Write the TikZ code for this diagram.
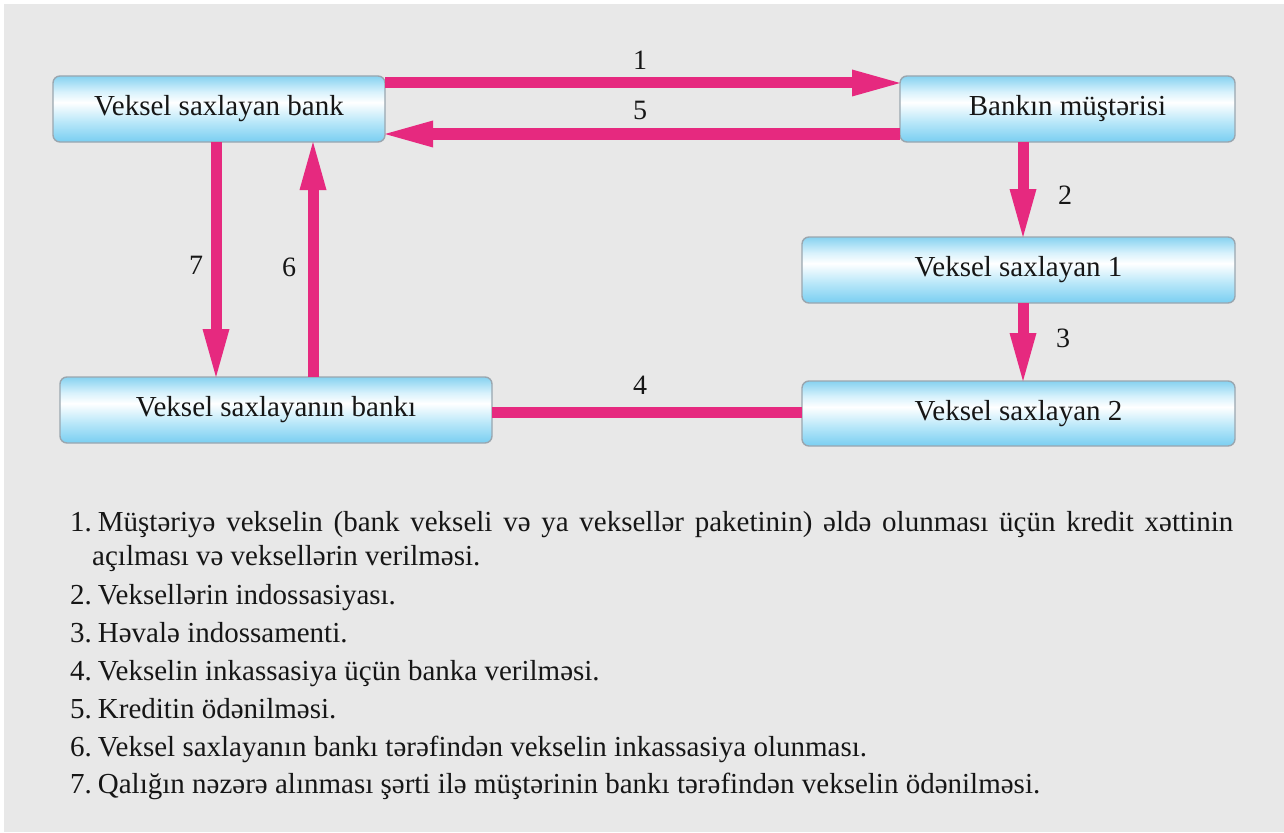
\documentclass[tikz,border=0pt]{standalone}
\usepackage{fontspec}
\setmainfont{Liberation Serif}
\usetikzlibrary{arrows.meta,calc}
\definecolor{bgray}{HTML}{E8E8E8}
\definecolor{pinkA}{HTML}{E6297F}
\definecolor{bbot}{HTML}{79CEF1}
\definecolor{bmid}{HTML}{B8E7F9}
\definecolor{blight}{HTML}{D8F2FC}
\definecolor{btop}{HTML}{86D2F0}
\definecolor{bord}{HTML}{9AA6AF}
\definecolor{txt}{HTML}{161616}
\pgfdeclareverticalshading{boxshade}{100bp}{color(0bp)=(bbot); color(25bp)=(bbot); color(40bp)=(bmid); color(55bp)=(white); color(63bp)=(blight); color(75bp)=(btop); color(100bp)=(btop)}
\tikzset{
  box/.style={draw=bord, line width=1.4pt, rounded corners=7pt, shading=boxshade,
    inner sep=0pt, outer sep=0pt, text=txt, font=\fontsize{29}{34}\selectfont},
  conn/.style={draw=pinkA, line width=11pt, line cap=butt},
  arr/.style={conn, -{Triangle[length=48pt,width=27pt,line width=0pt]}},
  num/.style={text=txt, font=\fontsize{28}{32}\selectfont, inner sep=0pt},
  leg/.style={text=txt, font=\fontsize{29}{34}\selectfont, inner sep=0pt, anchor=base west}
}
\begin{document}
\begin{tikzpicture}[x=1pt,y=-1pt]
\useasboundingbox (0,0) rectangle (1284,832);
\fill[white] (0,0) rectangle (1284,832);
\fill[bgray] (4,4) rectangle (1284,832);

\node[box, minimum width=332pt, minimum height=66pt] (A) at (219,109) {Veksel saxlayan bank};
\node[box, minimum width=335pt, minimum height=66pt] (B) at (1067.5,109) {Bankın müştərisi};
\node[box, minimum width=433pt, minimum height=66pt] (C) at (1018.5,270) {Veksel saxlayan 1};
\node[box, minimum width=433pt, minimum height=65pt] (D) at (1018.5,413.5) {Veksel saxlayan 2};
\node[box, minimum width=432pt, minimum height=66pt] (E) at (276,410) {Veksel saxlayanın bankı};

% connectors
\draw[arr] ([yshift=26pt]A.east) -- ([yshift=26pt]B.west);
\draw[arr] ([yshift=-25pt]B.west) -- ([yshift=-25pt]A.east);
\draw[arr] ([xshift=-44.5pt]B.south) -- ([xshift=4.5pt]C.north);
\draw[arr] ([xshift=4.5pt]C.south) -- ([xshift=4.5pt]D.north);
\draw[arr] ([xshift=-3pt]A.south) -- ([xshift=-60pt]E.north);
\draw[arr] ([xshift=37pt]E.north) -- ([xshift=94pt]A.south);
\draw[conn] ([yshift=-2pt]E.east) -- ([yshift=1.5pt]D.west);

% numbers
\node[num] (n1) at (640,60) {1};
\node[num] (n5) at (640,110) {5};
\node[num] (n2) at (1065,195) {2};
\node[num] (n3) at (1063,338) {3};
\node[num] (n7) at (196,265) {7};
\node[num] (n6) at (289,267) {6};
\node[num] (n4) at (640,385) {4};

% legend
\node[leg] (l1) at (70,531) {\makebox[1163pt][s]{1.\kern6pt Müştəriyə vekselin (bank vekseli və ya veksellər paketinin) əldə olunması üçün kredit xəttinin}};
\node[leg] (l1b) at (92,565) {açılması və veksellərin verilməsi.};
\node[leg] (l2) at (70,604) {2.\kern6pt Veksellərin indossasiyası.};
\node[leg] (l3) at (70,642) {3.\kern6pt Həvalə indossamenti.};
\node[leg] (l4) at (70,680) {4.\kern6pt Vekselin inkassasiya üçün banka verilməsi.};
\node[leg] (l5) at (70,718) {5.\kern6pt Kreditin ödənilməsi.};
\node[leg] (l6) at (70,756) {6.\kern6pt Veksel saxlayanın bankı tərəfindən vekselin inkassasiya olunması.};
\node[leg] (l7) at (70,793) {7.\kern6pt Qalığın nəzərə alınması şərti ilə müştərinin bankı tərəfindən vekselin ödənilməsi.};
\end{tikzpicture}
\end{document}
